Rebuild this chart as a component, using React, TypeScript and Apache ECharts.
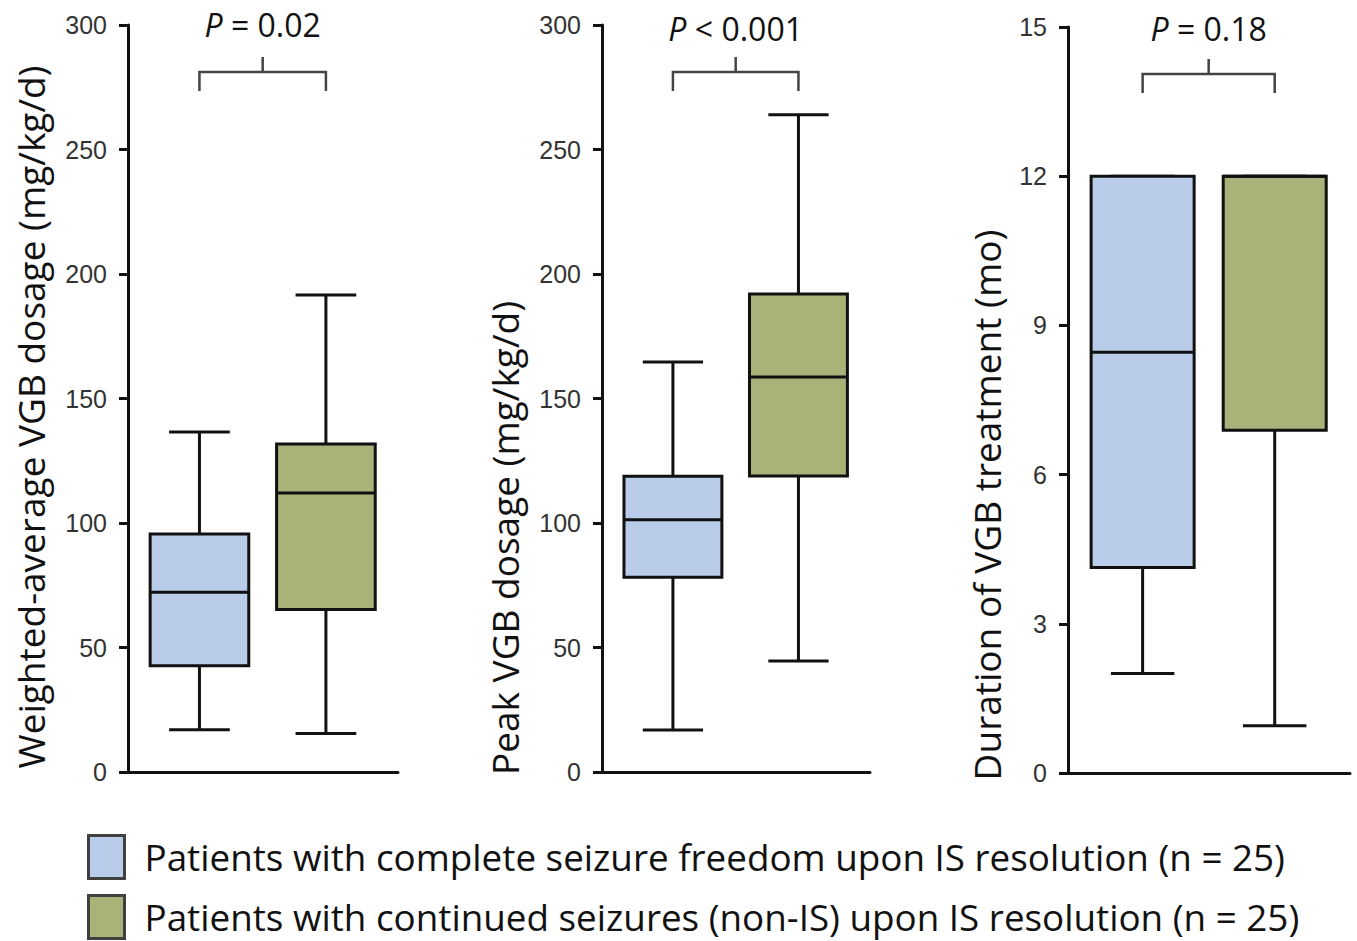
import React, { useEffect, useRef } from 'react';
import * as echarts from 'echarts';

// ---- data ----
const groups = [
  'Patients with complete seizure freedom upon IS resolution (n = 25)',
  'Patients with continued seizures (non-IS) upon IS resolution (n = 25)',
];
const groupColors = ['#b9cdea', '#a8b37a'];
const yTitles = [
  'Weighted-average VGB dosage (mg/kg/d)',
  'Peak VGB dosage (mg/kg/d)',
  'Duration of VGB treatment (mo)',
];
const yMax = [300, 300, 15];
const yStep = [50, 50, 3];
const pValues = ['= 0.02', '< 0.001', '= 0.18'];
// [min, Q1, median, Q3, max] per group
const weightedAvg = [
  [17, 42.7, 72.2, 95.6, 136.5],
  [15.5, 65.3, 112, 131.7, 191.6],
];
const peakDose = [
  [16.9, 78.2, 101.3, 118.8, 164.7],
  [44.6, 118.9, 158.6, 192, 264],
];
const duration = [
  [2.0, 4.13, 8.46, 12, 12],
  [0.95, 6.89, 12, 12, 12],
];
const panels = [weightedAvg, peakDose, duration];

// ---- layout ----
const grids = [
  { left: 128, top: 25, width: 270, height: 747 },
  { left: 602, top: 25, width: 268, height: 747 },
  { left: 1068, top: 27, width: 282, height: 746 },
];
const titlePos = [
  [30, 417],
  [504, 538],
  [986, 505],
];
const pTextY = [24, 28, 28];
const legendTop = [834, 894];
const X_MIN = -0.565;
const X_MAX = 1.57;
const BOX_W = 0.78;
const CAP_W = 0.48;
const INK = '#111';

const renderBox = (params: any, api: any) => {
  const x = api.value(0);
  const v = [1, 2, 3, 4, 5].map((i) => api.value(i));
  const cx = api.coord([x, 0])[0];
  const half = api.coord([x + BOX_W / 2, 0])[0] - cx;
  const capHalf = api.coord([x + CAP_W / 2, 0])[0] - cx;
  const y = v.map((val: number) => api.coord([x, val])[1]);
  const fill = api.visual('color');
  const line = (x1: number, y1: number, x2: number, y2: number) => ({
    type: 'line',
    shape: { x1, y1, x2, y2 },
    style: { stroke: INK, lineWidth: 3 },
  });
  return {
    type: 'group',
    children: [
      line(cx, y[0], cx, y[1]),
      line(cx - capHalf, y[0], cx + capHalf, y[0]),
      line(cx, y[3], cx, y[4]),
      line(cx - capHalf, y[4], cx + capHalf, y[4]),
      {
        type: 'rect',
        shape: { x: cx - half, y: y[3], width: 2 * half, height: y[1] - y[3] },
        style: { fill, stroke: INK, lineWidth: 3 },
      },
      line(cx - half, y[2], cx + half, y[2]),
    ],
  };
};

const makeBracket = (pi: number) => (params: any, api: any) => {
  const x0 = api.coord([api.value(0), 0])[0];
  const x1 = api.coord([api.value(1), 0])[0];
  const top = params.coordSys.y;
  const mid = (x0 + x1) / 2;
  return {
    type: 'group',
    children: [
      {
        type: 'polyline',
        shape: { points: [[x0, top + 66], [x0, top + 47], [x1, top + 47], [x1, top + 66]] },
        style: { stroke: '#444', lineWidth: 2.5, fill: null },
      },
      {
        type: 'line',
        shape: { x1: mid, y1: top + 47, x2: mid, y2: top + 32 },
        style: { stroke: '#444', lineWidth: 2.5 },
      },
      {
        type: 'text',
        x: mid,
        y: pTextY[pi],
        style: {
          text: `{i|P} ${pValues[pi]}`,
          fill: INK,
          fontSize: 32,
          fontFamily: 'Open Sans',
          align: 'center',
          verticalAlign: 'middle',
          rich: { i: { fontStyle: 'italic', fontSize: 32, fontFamily: 'Open Sans', fill: INK } },
        },
      },
    ],
  };
};

const series: any[] = [];
panels.forEach((data, pi) => {
  data.forEach((stats, gi) => {
    series.push({
      type: 'custom',
      name: groups[gi],
      xAxisIndex: pi,
      yAxisIndex: pi,
      itemStyle: { color: groupColors[gi] },
      renderItem: renderBox,
      encode: { x: 0, y: [1, 2, 3, 4, 5] },
      data: [[gi, ...stats]],
    });
  });
  series.push({
    type: 'custom',
    name: 'bracket' + pi,
    xAxisIndex: pi,
    yAxisIndex: pi,
    silent: true,
    renderItem: makeBracket(pi),
    encode: { x: [0, 1], y: 2 },
    data: [[0, 1, yMax[pi]]],
  });
});

const option: any = {
  animation: false,
  backgroundColor: '#fff',
  grid: grids,
  xAxis: grids.map((_, i) => ({
    type: 'value',
    gridIndex: i,
    min: X_MIN,
    max: X_MAX,
    axisLine: { show: true, onZero: false, lineStyle: { color: INK, width: 3 } },
    axisTick: { show: false },
    axisLabel: { show: false },
    splitLine: { show: false },
  })),
  yAxis: grids.map((_, i) => ({
    type: 'value',
    gridIndex: i,
    min: 0,
    max: yMax[i],
    interval: yStep[i],
    axisLine: { show: true, onZero: false, lineStyle: { color: INK, width: 3 } },
    axisTick: { show: true, length: 9, lineStyle: { color: INK, width: 3 } },
    axisLabel: { fontSize: 25, color: '#333', fontFamily: 'Liberation Sans', margin: 21 },
    splitLine: { show: false },
  })),
  legend: groups.map((g, i) => ({
    data: [g],
    orient: 'horizontal',
    left: 87,
    top: legendTop[i],
    padding: 0,
    itemWidth: 36,
    itemHeight: 43,
    icon: 'rect',
    selectedMode: false,
    itemStyle: { borderColor: '#404040', borderWidth: 3 },
    textStyle: {
      fontFamily: 'Open Sans',
      fontSize: 36.8,
      lineHeight: 40,
      color: INK,
      padding: [0, 0, 0, 15],
    },
  })),
  graphic: yTitles.map((t, i) => ({
    type: 'text',
    x: titlePos[i][0],
    y: titlePos[i][1],
    rotation: Math.PI / 2,
    style: {
      text: t,
      fontFamily: 'Open Sans',
      fontSize: 37,
      fill: INK,
      align: 'center',
      verticalAlign: 'middle',
      textAlign: 'center',
      textVerticalAlign: 'middle',
    },
  })),
  series,
};

export default function App() {
  const ref = useRef<HTMLDivElement>(null);
  useEffect(() => {
    const chart = echarts.init(ref.current!, null, { renderer: 'svg' });
    chart.setOption(option);
    return () => chart.dispose();
  }, []);
  return (
    <div
      ref={ref}
      style={{ position: 'fixed', left: 0, top: 0, width: 1357, height: 941, background: '#fff' }}
    />
  );
}
